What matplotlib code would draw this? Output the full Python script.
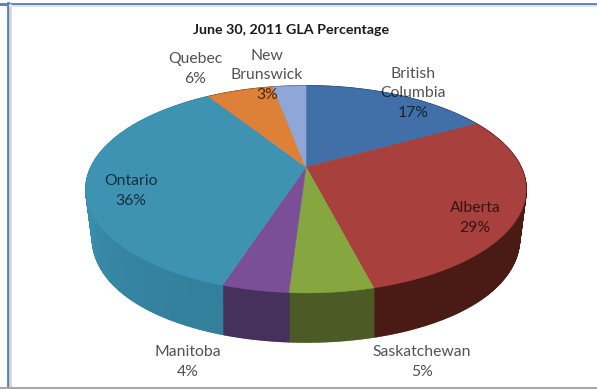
import matplotlib.pyplot as plt
import numpy as np
from matplotlib.colors import to_rgb
from matplotlib.patches import Polygon

# GLA share by province, clockwise from 12 o'clock
provinces = ['British\nColumbia', 'Alberta', 'Saskatchewan', 'Manitoba', 'Ontario', 'Quebec', 'New\nBrunswick']
percents = [17, 29, 5, 4, 36, 6, 3]
top_colors = ['#4170a8', '#a8403e', '#86a640', '#7a4f98', '#3f93b2', '#dd8138', '#8fa6d8']
side_colors = ['#2b4a70', '#4a1a15', '#4c5a26', '#46305c', '#337f9b', '#8f5020', '#5c6c90']

W, H = 597, 389
cx, cy = 306, 167
b, a, k = 214.8, 98.6, 0.217
depth = 49


def rim(theta):
    # perspective view of the pie's circular rim
    den = 1 + k * np.cos(theta)
    return cx + b * np.sin(theta) / den, cy - a * np.cos(theta) / den


def base_x(x):
    # lower rim pulls in only near the far left and right
    dx = x - cx
    return cx + dx * (1 - 0.03 * (abs(dx) / 220) ** 3)


fig = plt.figure(figsize=(W / 100, H / 100), dpi=100)
ax = fig.add_axes([0, 0, 1, 1])
ax.set_xlim(0, W)
ax.set_ylim(H, 0)
ax.axis('off')

edges = np.cumsum([0] + percents) / sum(percents) * 2 * np.pi

# outer wall first, lit a little more towards the left
for i in range(len(percents)):
    ts = np.linspace(edges[i], edges[i + 1], percents[i] * 6 + 2)
    for t0, t1 in zip(ts[:-1], ts[1:]):
        x0, y0 = rim(t0)
        x1, y1 = rim(t1)
        shade = 1 + 0.12 * max(0, -np.sin((t0 + t1) / 2)) ** 3
        col = np.clip(np.array(to_rgb(side_colors[i])) * shade, 0, 1)
        ax.add_patch(Polygon([(x0, y0), (x1, y1), (base_x(x1), y1 + depth), (base_x(x0), y0 + depth)],
                             closed=True, fc=col, ec=col, lw=1.2, zorder=2))

# top face
for i in range(len(percents)):
    ts = np.linspace(edges[i], edges[i + 1], 80)
    xs, ys = rim(ts)
    pts = [(cx, cy)] + list(zip(xs, ys))
    ax.add_patch(Polygon(pts, closed=True, fc=top_colors[i], ec=top_colors[i], lw=0.4, zorder=3))

# window border
ax.plot([0, W], [3.5, 3.5], color='#4f81bd', lw=2, zorder=1)
ax.plot([7.5, 7.5], [3, H], color='#4f81bd', lw=2, zorder=1)
ax.plot([10, 10], [5, H], color='#d8d8d8', lw=2, zorder=1)
ax.plot([10, W], [6, 6], color='#e4e4e4', lw=1.5, zorder=1)
ax.plot([0, W], [387.5, 387.5], color='#a8a8a8', lw=1.5, zorder=1)

plt.rcParams['font.family'] = ['Lato', 'DejaVu Sans']
ax.text(291, 30, 'June 30, 2011 GLA Percentage', ha='center', va='center',
        fontsize=10.3, fontweight='bold', color='#1a1a1a', zorder=5)

label_pos = [(413, 93), (475, 218), (422, 362), (188, 362), (131, 191), (195, 69), (267, 75)]
for name, pct, (lx, ly) in zip(provinces, percents, label_pos):
    ax.text(lx, ly, f'{name}\n{pct}%', ha='center', va='center', ma='center',
            fontsize=11.3, color='black', alpha=0.68, linespacing=1.5, zorder=5)

fig.savefig('out.png', dpi=100)
